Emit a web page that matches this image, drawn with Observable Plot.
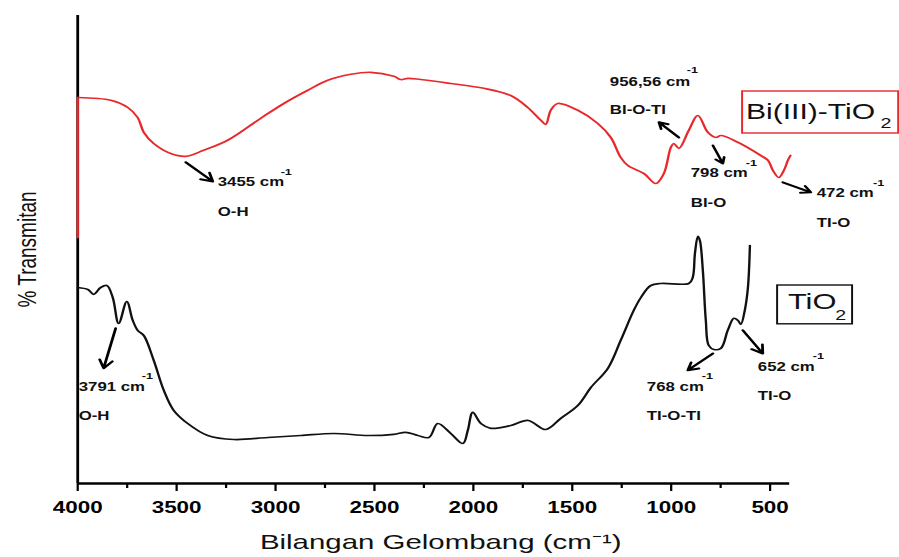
<!DOCTYPE html>
<html>
<head>
<meta charset="utf-8">
<script src="https://cdn.jsdelivr.net/npm/d3@7"></script>
<script src="https://cdn.jsdelivr.net/npm/@observablehq/plot@0.6"></script>
<style>
  html, body { margin: 0; padding: 0; background: #fff; }
  #chart { width: 899px; height: 557px; overflow: hidden; }
</style>
</head>
<body>
<div id="chart"></div>
<script>
// ---- Data (wavenumber in cm^-1, arbitrary % transmittance) ----
const majorTicks = [4000, 3500, 3000, 2500, 2000, 1500, 1000, 500];
const minorTicks = [3750, 3250, 2750, 2250, 1750, 1250, 750];

// Bi(III)-TiO2 spectrum (red)
const redWave = [4000, 4000, 3833, 3747, 3697, 3666, 3616, 3530, 3454, 3363, 3242, 3075, 2958, 2837, 2736, 2620, 2519, 2402, 2367, 2331, 2266, 2114, 1947, 1811, 1725, 1659, 1634, 1609, 1573, 1472, 1371, 1305, 1255, 1219, 1138, 1078, 1037, 1002, 987, 961, 911, 865, 815, 774, 749, 663, 547, 511, 486, 456, 430, 410, 397];
const redT    = [61.5, 96.5, 95.8, 94.0, 91.5, 87.8, 85.0, 82.5, 81.8, 83.3, 85.8, 91.3, 95.0, 98.3, 100.8, 102.3, 102.8, 101.8, 101.0, 101.3, 101.0, 100.0, 98.8, 97.0, 94.0, 90.8, 89.8, 93.3, 95.0, 93.3, 90.0, 86.5, 81.5, 79.5, 77.5, 75.0, 77.5, 84.0, 85.0, 83.8, 88.3, 92.0, 87.8, 86.5, 87.0, 85.3, 82.0, 80.8, 78.3, 76.5, 78.3, 80.8, 82.0];

// TiO2 spectrum (black)
const blackWave = [4000, 3949, 3919, 3884, 3853, 3823, 3793, 3752, 3722, 3697, 3666, 3616, 3565, 3515, 3444, 3343, 3211, 3039, 2872, 2706, 2534, 2402, 2342, 2281, 2225, 2180, 2114, 2053, 2028, 2003, 1962, 1912, 1811, 1725, 1634, 1558, 1472, 1406, 1320, 1255, 1189, 1153, 1103, 1052, 911, 891, 880, 865, 855, 840, 825, 810, 784, 749, 714, 683, 663, 648, 628, 612, 602];
const blackT    = [49.0, 48.5, 47.3, 49.0, 49.5, 46.5, 40.0, 45.5, 40.8, 38.3, 37.0, 30.8, 23.3, 18.3, 15.0, 12.0, 11.0, 11.5, 12.0, 12.5, 12.0, 12.3, 12.8, 12.0, 11.5, 15.0, 12.5, 10.0, 13.3, 17.8, 15.0, 13.8, 14.5, 15.8, 13.5, 16.3, 19.5, 24.0, 28.8, 35.8, 43.3, 46.5, 49.5, 50.0, 50.0, 51.5, 57.5, 61.8, 60.8, 53.3, 40.8, 34.5, 33.5, 33.8, 38.3, 41.3, 40.8, 39.8, 43.3, 49.0, 59.5];

// Peak annotations
const annLabel = ["3455 cm", "956,56 cm", "798 cm", "472 cm", "3791 cm", "768 cm", "652 cm"];
const annBond  = ["O-H", "BI-O-TI", "BI-O", "TI-O", "O-H", "TI-O-TI", "TI-O"];
const annX  = [3292, 1310, 901, 264, 3995, 1123, 562];
const annY  = [75.3, 100.3, 77.5, 72.5, 24.0, 24.0, 29.0];
const bondY = [67.8, 93.3, 70.0, 65.0, 16.8, 16.8, 21.8];
const supX  = [2974, 921, 623, -20, 3676, 845, 284];
const supY  = [77.8, 103.3, 80.0, 75.0, 26.8, 26.8, 31.8];
const arrX1 = [3454, 961, 789, 436, 3808, 789, 638];
const arrY1 = [80.3, 86.5, 84.5, 75.3, 38.8, 32.5, 38.3];
const arrX2 = [3317, 1062, 739, 294, 3869, 916, 537];
const arrY2 = [75.5, 90.3, 80.0, 72.8, 28.8, 28.3, 32.5];

// Series legend boxes
const legendText = ["Bi(III)-TiO", "TiO"];
const legendColor = ["#e8282a", "#111111"];
const legendSize = [21.5, 22];
const boxX1 = [638, 461], boxX2 = [-151, 82];
const boxY1 = [87.5, 39.8], boxY2 = [98.0, 49.5];
const legendX = [622, 410], legendY = [92.8, 45.4];
const legendSubX = [-58, 170], legendSubY = [90.0, 42.0];

const red = redWave.map((w, i) => ({w, t: redT[i]}));
const black = blackWave.map((w, i) => ({w, t: blackT[i]}));
const ann = annLabel.map((s, i) => ({s, b: annBond[i], x: annX[i], y: annY[i], by: bondY[i], sx: supX[i], sy: supY[i], x1: arrX1[i], y1: arrY1[i], x2: arrX2[i], y2: arrY2[i]}));
const leg = legendText.map((s, i) => ({s, c: legendColor[i], fs: legendSize[i], x1: boxX1[i], x2: boxX2[i], y1: boxY1[i], y2: boxY2[i], x: legendX[i], y: legendY[i], sx: legendSubX[i], sy: legendSubY[i]}));

const W = 642, H = 557, STRETCH_W = 899;
const font = "Liberation Sans, Arial, Helvetica, sans-serif";

const svg = Plot.plot({
  width: W,
  height: H,
  marginLeft: 55,
  marginRight: W - 789 / 1.4,
  marginTop: 15,
  marginBottom: 74,
  style: {fontFamily: font, fontSize: "16px", color: "#000", background: "#fff", overflow: "visible"},
  x: {domain: [4000, 400], axis: null},
  y: {domain: [0, 117], axis: null},
  marks: [
    Plot.axisX({ticks: majorTicks, tickSize: 8, tickPadding: 10, strokeWidth: 1.6, fontSize: 16, fontWeight: "bold", fontFamily: font, tickFormat: d => String(d), label: null}),
    Plot.axisX({ticks: minorTicks, tickSize: 5, strokeWidth: 1.6, tickFormat: () => "", label: null}),
    Plot.ruleY([0], {strokeWidth: 2.4, stroke: "#000"}),
    Plot.ruleX([4000], {strokeWidth: 2, stroke: "#000"}),
    Plot.line(black, {x: "w", y: "t", stroke: "#111", strokeWidth: 1.7, curve: "catmull-rom"}),
    // left edge of the red spectrum runs straight up along the axis
    Plot.line(red.slice(0, 2), {x: "w", y: "t", stroke: "#e8282a", strokeWidth: 1.7}),
    Plot.line(red.slice(1), {x: "w", y: "t", stroke: "#e8282a", strokeWidth: 1.7, curve: "catmull-rom"}),
    Plot.arrow(ann, {x1: "x1", y1: "y1", x2: "x2", y2: "y2", stroke: "#000", strokeWidth: 2, headLength: 7}),
    Plot.text(ann, {x: "x", y: "y", text: "s", textAnchor: "start", fontSize: 12, fontWeight: "bold", fill: "#111"}),
    Plot.text(ann, {x: "sx", y: "sy", text: () => "-1", textAnchor: "start", fontSize: 9, fontWeight: "bold", fill: "#111"}),
    Plot.text(ann, {x: "x", y: "by", text: "b", textAnchor: "start", fontSize: 12, fontWeight: "bold", fill: "#111"}),
    Plot.rect(leg, {x1: "x1", x2: "x2", y1: "y1", y2: "y2", fill: "#fff", stroke: "c", strokeWidth: 1.4}),
    Plot.text(leg, {x: "x", y: "y", text: "s", textAnchor: "start", fontSize: "fs", fill: "#111"}),
    Plot.text(leg, {x: "sx", y: "sy", text: () => "2", textAnchor: "start", fontSize: 14, fill: "#111"}),
    Plot.text(["Bilangan Gelombang (cm\u207B\u00B9)"], {frameAnchor: "bottom", dy: 65, dx: 5, fontSize: 21, fill: "#111"}),
    Plot.text(["% Transmitan"], {frameAnchor: "left", textAnchor: "middle", dx: -36, dy: 0, rotate: -90, fontSize: 19, fill: "#111"})
  ]
});

// The reference image is stretched horizontally; reproduce it by stretching the SVG viewBox.
svg.setAttribute("width", STRETCH_W);
svg.setAttribute("height", H);
svg.setAttribute("viewBox", `0 0 ${W} ${H}`);
svg.setAttribute("preserveAspectRatio", "none");
svg.style.width = STRETCH_W + "px";
svg.style.height = H + "px";
svg.style.maxWidth = "none";
document.getElementById("chart").appendChild(svg);
</script>
</body>
</html>
